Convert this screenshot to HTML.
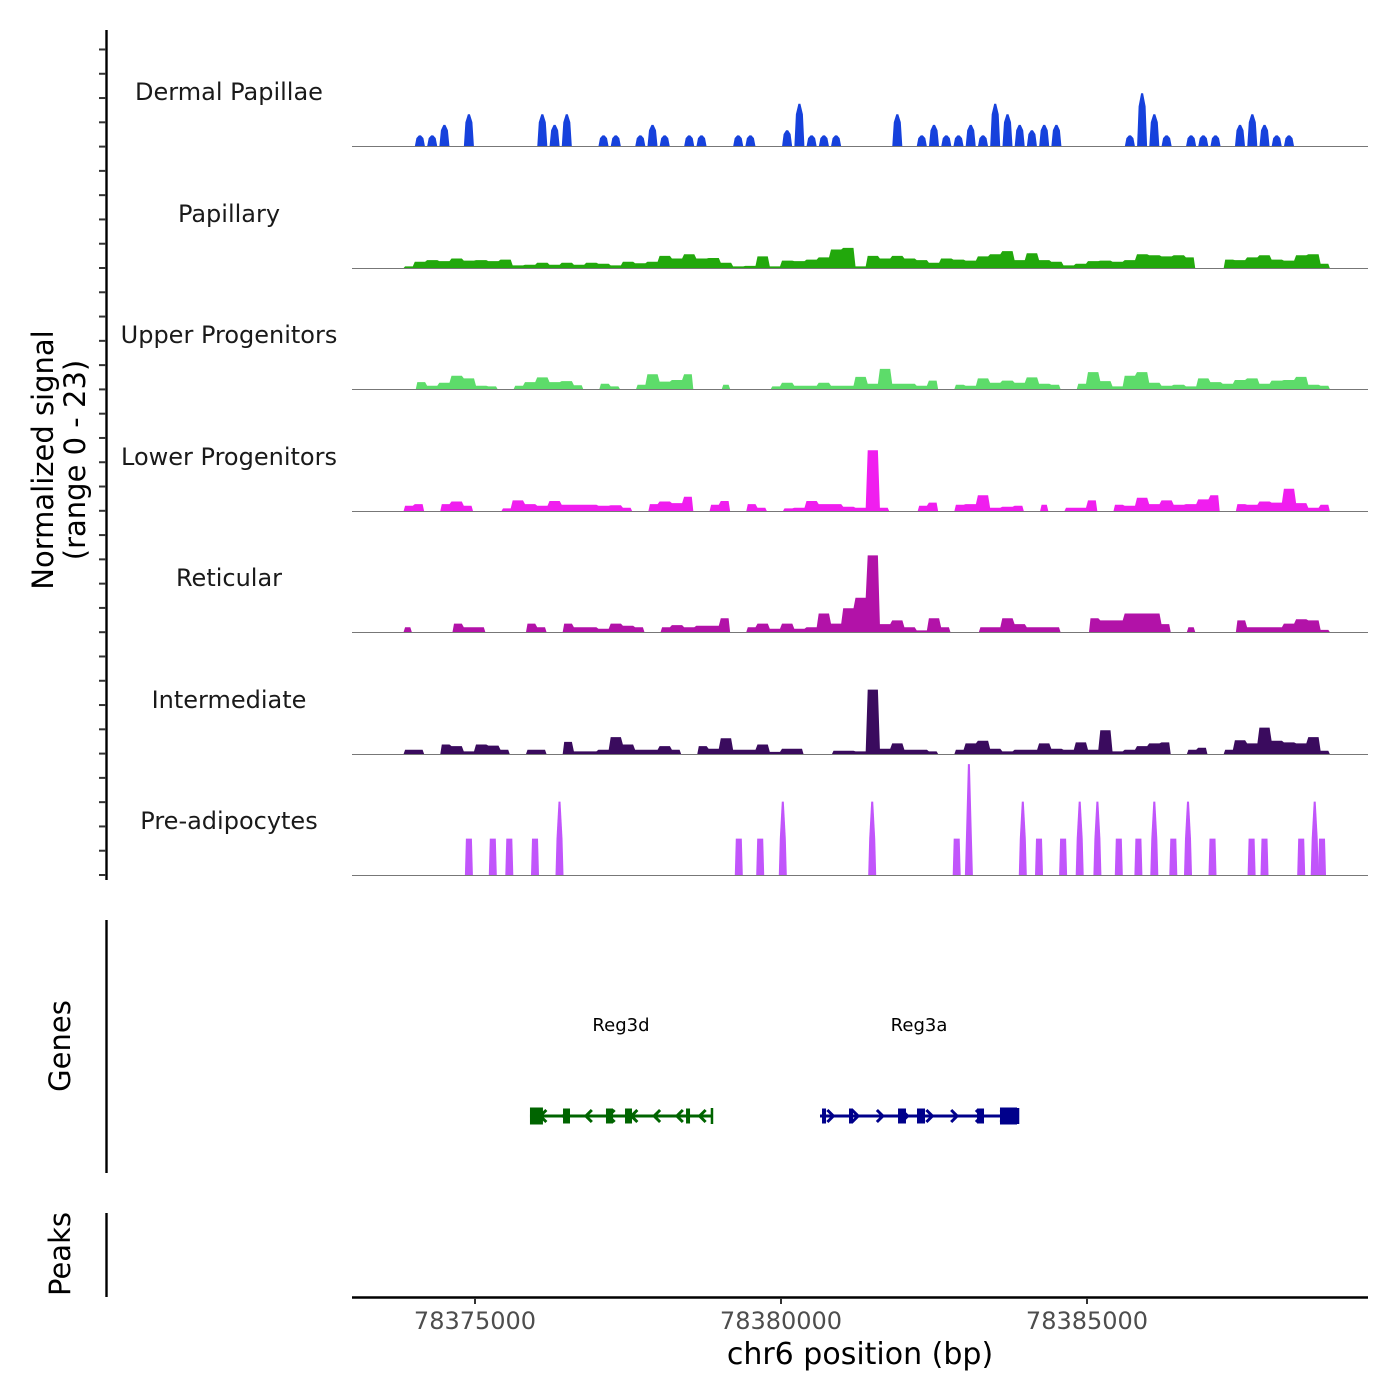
<!DOCTYPE html>
<html><head><meta charset="utf-8">
<style>
html,body{margin:0;padding:0;background:#fff;}
svg{display:block;font-family:"DejaVu Sans","Liberation Sans",sans-serif;}
</style></head>
<body>
<svg id="chart" width="1400" height="1400" viewBox="0 0 1400 1400" xmlns="http://www.w3.org/2000/svg">
<rect x="0" y="0" width="1400" height="1400" fill="#fff"/>
<g id="tracks"></g>
<g id="axes"></g>
<g id="genes"></g>
</svg>
<script>
// ---- data ----
const binStart = 78373000;
const binSize = 200;
const trackNames = ["Dermal Papillae","Papillary","Upper Progenitors","Lower Progenitors","Reticular","Intermediate","Pre-adipocytes"];
const trackColors = ["#1641dc","#22a80c","#5ddc6a","#f01eef","#b212a8","#3a0b5e","#c155fb"];
const dermalPapillae = [0,0,0,0,0,2,2,4,0,6,0,0,0,0,0,6,4,6,0,0,2,2,0,2,4,2,0,2,2,0,0,2,2,0,0,3,8,2,2,2,0,0,0,0,6,0,2,4,2,2,4,2,8,6,4,3,4,4,0,0,0,0,0,2,10,6,2,0,2,2,2,0,4,6,4,2,2,0,0,0,0,0,0,0];
const papillary = [0,0,0,0,0.3,1.2,1.5,1.3,1.8,1.4,1.5,1.3,1.6,0.5,0.6,1.0,0.6,1.0,0.6,1.0,0.8,0.5,1.2,0.9,1.2,2.3,1.8,2.6,1.8,1.9,1.0,0.3,0.4,2.2,0.3,1.4,1.3,1.6,2.0,3.5,3.8,0.3,2.3,1.8,2.3,1.8,1.5,1.0,1.8,1.6,1.4,2.2,2.6,3.2,1.5,2.8,1.5,1.2,0.5,0.8,1.3,1.4,1.2,1.5,2.6,2.4,2.2,2.4,2.0,0,0,1.6,1.5,2.0,2.4,1.6,1.4,2.4,2.6,0.8,0,0,0,0];
const upperProgenitors = [0,0,0,0,0,1.3,0.6,1.2,2.5,2.0,0.6,0.5,0,0.6,1.3,2.2,1.3,1.5,0.7,0,1.0,0.5,0,0.8,2.8,1.4,1.7,2.8,0,0,0.8,0,0,0,0.5,1.2,0.6,0.6,1.2,0.6,0.6,2.3,1.0,3.8,1.0,1.0,0.6,1.6,0,0.8,0.6,2.0,1.2,1.6,1.2,2.2,1.0,0.8,0,1.0,3.2,1.5,0.5,2.5,3.2,1.2,0.6,0.8,0.5,2.0,1.3,1.0,1.7,2.0,1.0,1.6,1.7,2.3,0.8,0.6,0,0,0,0];
const lowerProgenitors = [0,0,0,0,1.0,1.3,0,1.3,1.8,1.0,0,0,0.5,2.0,1.3,1.0,1.9,1.2,1.2,1.2,1.0,1.1,0.6,0,1.3,1.8,1.5,2.7,0,1.2,1.9,0,1.3,0.6,0,0.5,0.6,1.9,1.3,1.3,0.8,0.6,11.5,0.6,0,0,1.0,1.6,0,1.2,1.3,3.0,0.6,0.8,1.0,0,1.2,0,0.6,0.6,2.0,0,1.2,1.0,2.5,1.3,2.0,1.2,1.3,2.2,3.0,0,1.3,1.2,1.8,1.6,4.2,1.5,0.6,1.2,0,0,0,0];
const reticular = [0,0,0,0,0.9,0,0,0,1.6,0.9,0.9,0,0,0,1.6,0.9,0,1.6,0.9,0.9,0.6,1.6,1.2,0.9,0,0.9,1.3,0.9,1.2,1.2,2.6,0,0.9,1.6,0.6,1.6,0.6,0.9,3.5,1.6,4.5,6.5,14.5,1.5,2.2,0.9,0.3,2.6,0.9,0,0,0.9,0.9,2.6,1.5,0.9,0.9,0.9,0,0,2.6,2.2,2.2,3.5,3.5,3.5,1.5,0,0.9,0,0,0,2.2,0.9,0.9,0.9,1.6,2.4,2.2,0.4,0,0,0,0];
const intermediate = [0,0,0,0,0.8,0.8,0,1.8,1.5,0.5,1.8,1.6,0.8,0,0.8,0.8,0,2.3,0.5,0.5,0.8,3.2,1.8,0.8,0.8,1.5,0.8,0,1.5,1.0,3.0,0.8,0.8,1.8,0.4,1.0,1.0,0,0,0.6,0.6,0.5,12.2,1.0,2.0,0.8,0.8,0.5,0,0.8,2.0,2.5,1.0,0.5,0.8,0.8,2.0,1.0,0.8,2.2,0.8,4.5,0.5,0.8,1.5,2.0,2.2,0,0.8,1.2,0,0.8,2.6,2.0,5.0,2.5,2.2,2.0,3.2,0.6,0,0,0,0];
const preadipPositions = [78374900,78375290,78375560,78375980,78376380,78379310,78379660,78380030,78381490,78382870,78383070,78383950,78384215,78384610,78384880,78385170,78385520,78385840,78386100,78386410,78386650,78387050,78387690,78387900,78388500,78388720,78388840];
const preadipValues = [6.9,6.9,6.9,6.9,13.9,6.9,6.9,13.9,13.9,6.9,21,13.9,6.9,6.9,13.9,13.9,6.9,6.9,13.9,6.9,13.9,6.9,6.9,6.9,6.9,13.9,6.9];
const xTicks = [78375000,78380000,78385000];
const xTickLabels = ["78375000","78380000","78385000"];
const geneNames = ["Reg3d","Reg3a"];
const geneStarts = [78375898,78380637];
const geneEnds = [78378872,78383873];
const geneStrands = [-1,1];
const geneColors = ["#006400","#00008b"];
const exonStarts = [[78375898,78376438,78377140,78377451,78378448],[78380670,78381111,78381912,78382222,78383203,78383578]];
const exonEnds = [[78376110,78376552,78377255,78377565,78378513],[78380735,78381160,78382042,78382353,78383317,78383856]];

// ---- scales ----
const X0 = 352, X1 = 1368;
const bp0 = 78372990, pxPerBp = 0.0612;
function xs(bp){ return X0 + (bp - bp0) * pxPerBp; }
const baselines = [146,268,389,511,632,754,875];
const pxPerUnit = 5.28;
function ys(t, v){ return baselines[t] - v * pxPerUnit; }

const NS = "http://www.w3.org/2000/svg";
function mk(tag, attrs, parent){
  const e = document.createElementNS(NS, tag);
  for (const k in attrs) e.setAttribute(k, attrs[k]);
  parent.appendChild(e);
  return e;
}
const tracksG = document.getElementById('tracks');
const axesG = document.getElementById('axes');
const genesG = document.getElementById('genes');

const binTracks = [dermalPapillae,papillary,upperProgenitors,lowerProgenitors,reticular,intermediate];
binTracks.forEach((vals, t) => {
  let d = "";
  if (t === 0) {
    // sparse track: separate blocks per bin
    vals.forEach((v, k) => {
      if (v <= 0) return;
      const a = xs(binStart + k*binSize), b = xs(binStart + (k+1)*binSize);
      const c = (a+b)/2;
      const pts = [[c-5, ys(t,0)], [c-3.5, ys(t,v*0.75)], [c-1, ys(t,v)], [c+1, ys(t,v)], [c+3.5, ys(t,v*0.75)], [c+5, ys(t,0)]];
      d += "M" + pts.map(p => p[0].toFixed(1)+","+p[1].toFixed(1)).join("L") + "Z";
    });
  } else {
    let i = 0;
    while (i < vals.length) {
      if (vals[i] <= 0) { i++; continue; }
      let j = i;
      while (j < vals.length && vals[j] > 0) j++;
      const pts = [];
      pts.push([xs(binStart + i*binSize) + 2, ys(t,0)]);
      for (let k = i; k < j; k++) {
        const a = xs(binStart + k*binSize), b = xs(binStart + (k+1)*binSize);
        const left = (k === i) ? a + 3.5 : a + 1;
        const right = (k === j-1) ? b - 3.5 : b - 1;
        pts.push([left, ys(t,vals[k])], [right, ys(t,vals[k])]);
      }
      pts.push([xs(binStart + j*binSize) - 2, ys(t,0)]);
      d += "M" + pts.map(p => p[0].toFixed(1)+","+p[1].toFixed(1)).join("L") + "Z";
      i = j;
    }
  }
  const p = mk('path', {d: d, fill: trackColors[t]}, tracksG);
  
  
});
// pre-adipocytes spikes
preadipPositions.forEach((pos, i) => {
  const v = preadipValues[i], x = xs(pos), t = 6;
  const sh = Math.min(v, 6.9);
  const pts = [[x-4,ys(t,0)],[x-3,ys(t,sh)],[x-1,ys(t,v)],[x+1,ys(t,v)],[x+3,ys(t,sh)],[x+4,ys(t,0)]];
  const p = mk('polygon', {points: pts.map(q=>q[0].toFixed(1)+","+q[1].toFixed(1)).join(" "), fill: trackColors[6]}, tracksG);
  
  
});
// baselines and labels
const labelY = [92,214,335,457,578,700,821];
trackNames.forEach((n, t) => {
  const l = mk('line', {x1: X0, x2: X1, y1: baselines[t]+0.5, y2: baselines[t]+0.5, stroke: '#777', 'stroke-width': 1}, tracksG);
  
  
  const tx = mk('text', {x: 229, y: labelY[t]+8, 'text-anchor': 'middle', 'font-size': 24, fill: '#1a1a1a'}, tracksG);
  tx.textContent = n;
  
  
});

// left y axis with ticks
const ya = mk('line', {x1: 106.5, x2: 106.5, y1: 30, y2: 880, stroke: '#000', 'stroke-width': 2.4}, axesG);


for (let k = 0; k <= 34; k++) {
  const y = 875 - k*24.28;
  const tk = mk('line', {x1: 99, x2: 106, y1: y, y2: y, stroke: '#333', 'stroke-width': 2}, axesG);
  
  
}
const yt = mk('text', {x: 0, y: 0, 'text-anchor': 'middle', 'font-size': 29, fill: '#000', transform: 'translate(53,460) rotate(-90)'}, axesG);
yt.textContent = 'Normalized signal';


const yt2 = mk('text', {x: 0, y: 0, 'text-anchor': 'middle', 'font-size': 29, fill: '#000', transform: 'translate(85,460) rotate(-90)'}, axesG);
yt2.textContent = '(range 0 - 23)';



// genes axis
const ga = mk('line', {x1: 106.5, x2: 106.5, y1: 920, y2: 1173, stroke: '#000', 'stroke-width': 2.4}, axesG);


const gt = mk('text', {x: 0, y: 0, 'text-anchor': 'middle', 'font-size': 29, fill: '#000', transform: 'translate(70,1046) rotate(-90)'}, axesG);
gt.textContent = 'Genes';


const pa = mk('line', {x1: 106.5, x2: 106.5, y1: 1213, y2: 1297, stroke: '#000', 'stroke-width': 2.4}, axesG);


const pt = mk('text', {x: 0, y: 0, 'text-anchor': 'middle', 'font-size': 29, fill: '#000', transform: 'translate(70,1254) rotate(-90)'}, axesG);
pt.textContent = 'Peaks';



// x axis
const xa = mk('line', {x1: X0, x2: X1, y1: 1297.5, y2: 1297.5, stroke: '#000', 'stroke-width': 2.4}, axesG);


xTicks.forEach((v, i) => {
  const x = xs(v);
  const tk = mk('line', {x1: x, x2: x, y1: 1298, y2: 1304, stroke: '#333', 'stroke-width': 2}, axesG);
  
  
  const tl = mk('text', {x: x, y: 1329, 'text-anchor': 'middle', 'font-size': 24, fill: '#4d4d4d'}, axesG);
  tl.textContent = xTickLabels[i];
  
  
});
const xt = mk('text', {x: 860, y: 1364, 'text-anchor': 'middle', 'font-size': 30, fill: '#000'}, axesG);
xt.textContent = 'chr6 position (bp)';



// genes
const geneY = 1116;
geneNames.forEach((n, g) => {
  const col = geneColors[g];
  const a = xs(geneStarts[g]), b = xs(geneEnds[g]);
  const ln = mk('line', {x1: a, x2: b, y1: geneY, y2: geneY, stroke: col, 'stroke-width': 3}, genesG);
  
  
  const ends = mk('line', {x1: b, x2: b, y1: geneY-8, y2: geneY+8, stroke: col, 'stroke-width': 2.5}, genesG);
  
  
  const lab = mk('text', {x: (a+b)/2, y: 1031, 'text-anchor': 'middle', 'font-size': 18, fill: '#000'}, genesG);
  lab.textContent = n;
  
  
  const nArr = 8;
  for (let k = 0; k < nArr; k++) {
    const x = a + (b-a)*(k+0.5)/nArr;
    const s = -geneStrands[g];
    const ar = mk('polyline', {points: `${x+5*s},${geneY-6} ${x-1*s},${geneY} ${x+5*s},${geneY+6}`, fill: 'none', stroke: col, 'stroke-width': 3}, genesG);
    
    
  }
  exonStarts[g].forEach((es, k) => {
    const x0 = xs(es), x1 = xs(exonEnds[g][k]);
    const big = (x1 - x0) > 10;
    const h = big ? 17 : 15;
    const r = mk('rect', {x: x0, y: geneY - h/2, width: Math.max(x1-x0, 4), height: h, fill: col}, genesG);
    
    
  });
});
</script>
</body></html>
